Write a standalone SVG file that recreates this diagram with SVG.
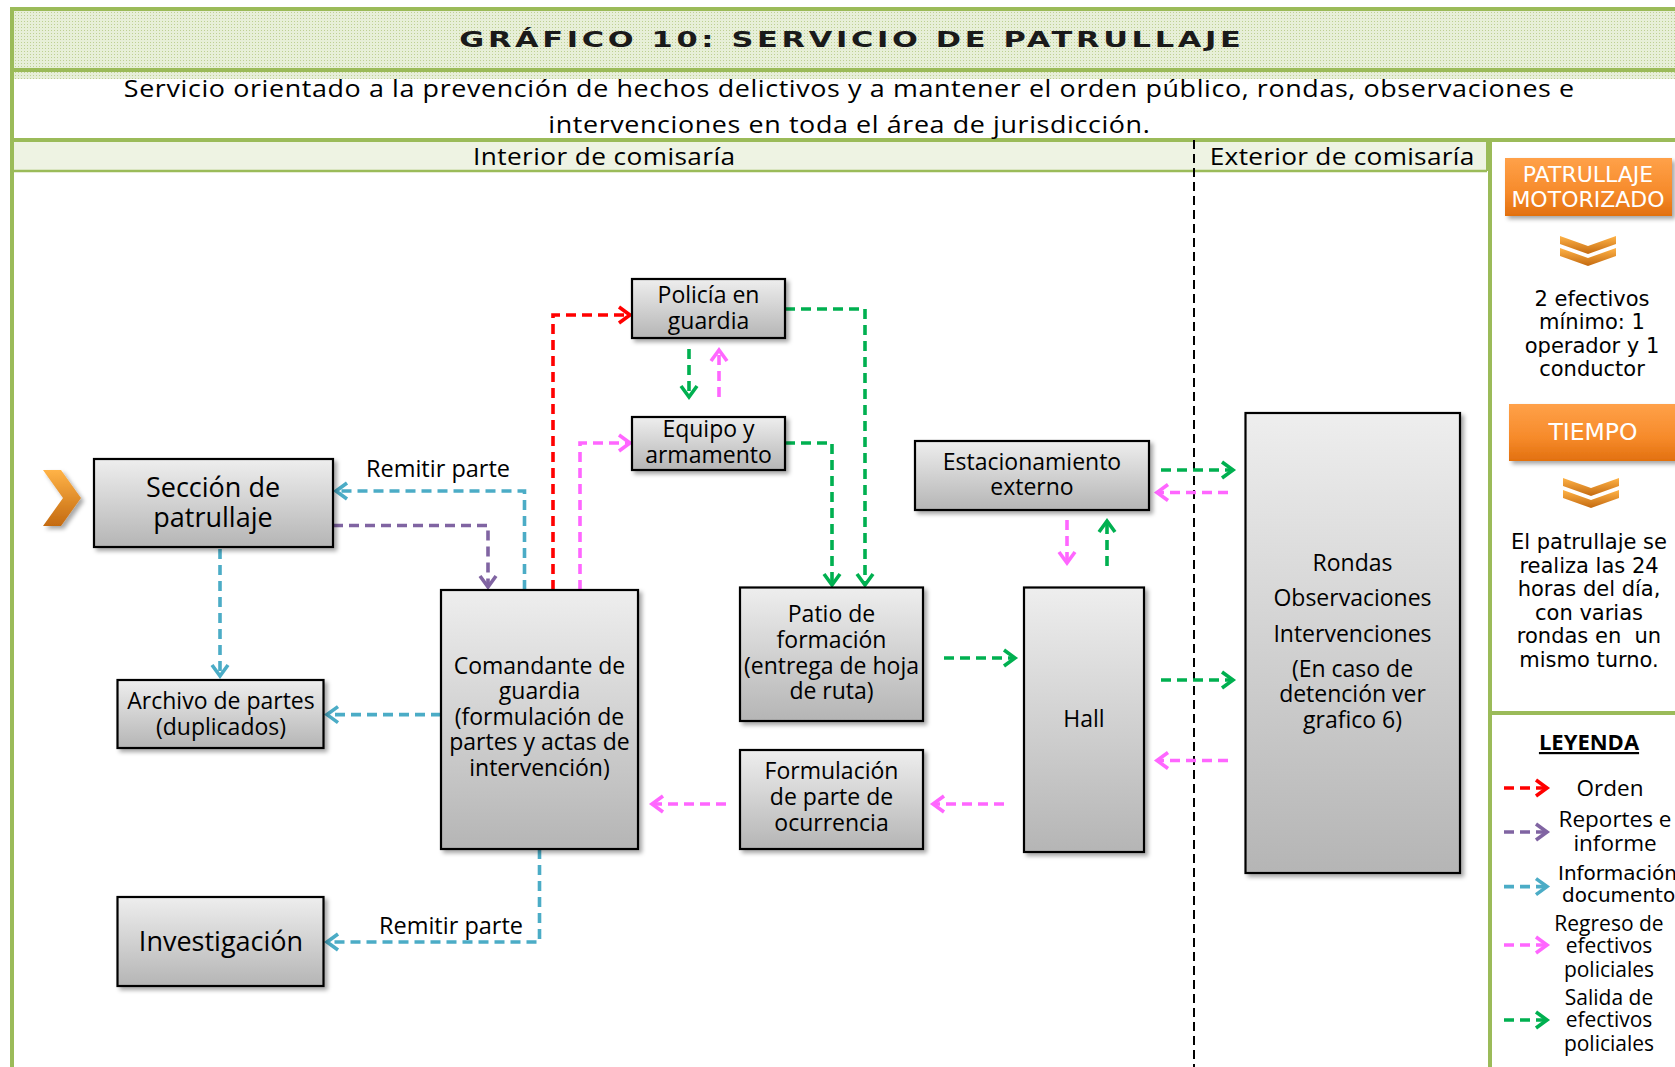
<svg xmlns="http://www.w3.org/2000/svg" width="1675" height="1067" viewBox="0 0 1675 1067">
<style>
.n{font-family:"Open Sans","Noto Sans",sans-serif;font-size:23px;fill:#000;text-anchor:middle}
.rc{font-family:"DejaVu Sans","Noto Sans",sans-serif;font-size:21px;fill:#000;text-anchor:middle}
.lg{font-family:"Open Sans","Noto Sans",sans-serif;font-size:21px;fill:#000;text-anchor:middle}
.big{font-size:27px}
.box{fill:url(#gg);stroke:#000;stroke-width:2.2;filter:url(#sh)}
.ob{fill:url(#og);filter:url(#sh)}
.w{fill:#fff}
.c{fill:none;stroke-width:3.6;stroke-dasharray:10 6}
.red{stroke:#ff0000;marker-end:url(#mr)}
.pur{stroke:#8064a2;marker-end:url(#mp)}
.blu{stroke:#4bacc6;marker-end:url(#mb)}
.pnk{stroke:#ff66ff;marker-end:url(#mk)}
.grn{stroke:#00b050;marker-end:url(#mg)}
.frame{fill:none;stroke:#9bbb59;stroke-width:4}
</style>
<defs>
<linearGradient id="gg" x1="0" y1="0" x2="0" y2="1"><stop offset="0" stop-color="#eeeeee"/><stop offset="1" stop-color="#b5b5b5"/></linearGradient>
<linearGradient id="og" x1="0" y1="0" x2="0" y2="1"><stop offset="0" stop-color="#ffa149"/><stop offset="0.6" stop-color="#f68a2a"/><stop offset="1" stop-color="#e2700f"/></linearGradient>
<linearGradient id="cg" x1="0" y1="0" x2="0" y2="1"><stop offset="0" stop-color="#ffb347"/><stop offset="1" stop-color="#c46a10"/></linearGradient>
<pattern id="dots" width="3" height="3" patternUnits="userSpaceOnUse"><rect width="3" height="3" fill="#e7efd8"/><rect width="1" height="1" fill="#bed093"/></pattern>
<filter id="sh" x="-10%" y="-10%" width="130%" height="130%"><feDropShadow dx="3" dy="3" stdDeviation="2" flood-color="#000" flood-opacity="0.35"/></filter>
<marker id="mr" markerUnits="userSpaceOnUse" markerWidth="22" markerHeight="22" viewBox="0 0 22 22" refX="17" refY="11" orient="auto"><path d="M6,3 L17,11 L6,19" fill="none" stroke="#ff0000" stroke-width="3.6"/></marker>
<marker id="mp" markerUnits="userSpaceOnUse" markerWidth="22" markerHeight="22" viewBox="0 0 22 22" refX="17" refY="11" orient="auto"><path d="M6,3 L17,11 L6,19" fill="none" stroke="#8064a2" stroke-width="3.6"/></marker>
<marker id="mb" markerUnits="userSpaceOnUse" markerWidth="22" markerHeight="22" viewBox="0 0 22 22" refX="17" refY="11" orient="auto"><path d="M6,3 L17,11 L6,19" fill="none" stroke="#4bacc6" stroke-width="3.6"/></marker>
<marker id="mk" markerUnits="userSpaceOnUse" markerWidth="22" markerHeight="22" viewBox="0 0 22 22" refX="17" refY="11" orient="auto"><path d="M6,3 L17,11 L6,19" fill="none" stroke="#ff66ff" stroke-width="3.6"/></marker>
<marker id="mg" markerUnits="userSpaceOnUse" markerWidth="22" markerHeight="22" viewBox="0 0 22 22" refX="17" refY="11" orient="auto"><path d="M6,3 L17,11 L6,19" fill="none" stroke="#00b050" stroke-width="3.6"/></marker>
<g id="chev"><polygon points="0,0 28,10 56,0 56,8 28,18 0,8" fill="url(#cg)"/><polygon points="0,12 28,22 56,12 56,20 28,30 0,20" fill="url(#cg)"/></g>
</defs>

<rect width="1675" height="1067" fill="#fff"/>

<g id="frame">
<rect x="12" y="9" width="1700" height="70" fill="url(#dots)"/>
<rect x="12" y="140" width="1182" height="31" fill="#eef3e3"/>
<rect x="1194" y="140" width="293" height="31" fill="#eef3e3"/>
<rect x="12" y="9" width="1700" height="1100" class="frame"/>
<line x1="12" y1="70" x2="1675" y2="70" stroke="#9bbb59" stroke-width="4"/>
<line x1="12" y1="140" x2="1675" y2="140" stroke="#9bbb59" stroke-width="4"/>
<line x1="12" y1="171" x2="1487" y2="171" stroke="#9bbb59" stroke-width="2.5"/>
<line x1="1487" y1="140" x2="1487" y2="171" stroke="#9bbb59" stroke-width="2"/>
<line x1="1490" y1="140" x2="1490" y2="1067" stroke="#9bbb59" stroke-width="4"/>
<line x1="1490" y1="713" x2="1675" y2="713" stroke="#9bbb59" stroke-width="4"/>
<line x1="1194" y1="140" x2="1194" y2="1067" stroke="#000" stroke-width="2" stroke-dasharray="9 5"/>
<text transform="translate(850,47) scale(1.45,1)" x="0" y="0" font-family="DejaVu Sans, sans-serif" font-weight="bold" font-size="21" text-anchor="middle" textLength="539" lengthAdjust="spacing" fill="#1a1a1a">GRÁFICO 10: SERVICIO DE PATRULLAJE</text>
<text transform="translate(849,97) scale(1.12,1)" x="0" y="0" class="n" style="font-size:24px" textLength="1295" lengthAdjust="spacing">Servicio orientado a la prevención de hechos delictivos y a mantener el orden público, rondas, observaciones e</text>
<text transform="translate(849,132.5) scale(1.12,1)" x="0" y="0" class="n" style="font-size:24px" textLength="537" lengthAdjust="spacing">intervenciones en toda el área de jurisdicción.</text>
<text transform="translate(604,165) scale(1.14,1)" x="0" y="0" class="n" textLength="230" lengthAdjust="spacing">Interior de comisaría</text>
<text transform="translate(1342,165) scale(1.14,1)" x="0" y="0" class="n" textLength="232" lengthAdjust="spacing">Exterior de comisaría</text>
</g>

<g id="connectors">
<path class="c blu" d="M524.5,590 V491 H336"/>
<path class="c pur" d="M333,525.5 H488 V587"/>
<path class="c blu" d="M220,549 V676"/>
<path class="c blu" d="M441,714.6 H327"/>
<path class="c blu" d="M539.5,849 V942 H327"/>
<path class="c red" d="M553,590 V315 H630"/>
<path class="c pnk" d="M580,590 V443 H630"/>
<path class="c grn" d="M785,309 H865 V585"/>
<path class="c grn" d="M785,443 H832 V585"/>
<path class="c grn" d="M689,349 V397"/>
<path class="c pnk" d="M719,397 V350"/>
<path class="c grn" d="M944,658 H1015"/>
<path class="c pnk" d="M1004,804 H933"/>
<path class="c pnk" d="M726,804 H652"/>
<path class="c pnk" d="M1067,520 V563"/>
<path class="c grn" d="M1107,566 V521"/>
<path class="c grn" d="M1161,470 H1233"/>
<path class="c pnk" d="M1228,492.5 H1157"/>
<path class="c grn" d="M1161,680 H1233"/>
<path class="c pnk" d="M1228,760.5 H1157"/>
<text x="438" y="477" class="n" style="font-size:23.5px">Remitir parte</text>
<text x="451" y="934" class="n" style="font-size:23.5px">Remitir parte</text>
</g>

<g id="start-chevron"><polygon points="43,470 61,470 81,498 61,526 43,526 63,498" fill="url(#cg)" filter="url(#sh)"/></g>

<g id="seccion"><rect class="box" x="94" y="459" width="239" height="88"/><text class="n big" x="213" y="496.5">Sección de</text><text class="n big" x="213" y="526.5">patrullaje</text></g>
<g id="archivo"><rect class="box" x="117.5" y="680" width="206" height="68"/><text class="n" x="221" y="709">Archivo de partes</text><text class="n" x="221" y="734.5">(duplicados)</text></g>
<g id="investigacion"><rect class="box" x="117.5" y="897" width="206" height="89"/><text class="n big" x="221" y="950.5">Investigación</text></g>
<g id="comandante"><rect class="box" x="441" y="590" width="197" height="259"/>
<text class="n" x="539.5" y="673.5">Comandante de</text><text class="n" x="539.5" y="699">guardia</text><text class="n" x="539.5" y="725">(formulación de</text><text class="n" x="539.5" y="750">partes y actas de</text><text class="n" x="539.5" y="776">intervención)</text></g>
<g id="policia"><rect class="box" x="632" y="279" width="153" height="59"/><text class="n" x="708.5" y="303">Policía en</text><text class="n" x="708.5" y="328.5">guardia</text></g>
<g id="equipo"><rect class="box" x="632" y="417" width="153" height="53"/><text class="n" x="708.5" y="437">Equipo y</text><text class="n" x="708.5" y="463">armamento</text></g>
<g id="patio"><rect class="box" x="740" y="587.5" width="183" height="133.5"/><text class="n" x="831.5" y="622">Patio de</text><text class="n" x="831.5" y="648">formación</text><text class="n" x="831.5" y="673.5">(entrega de hoja</text><text class="n" x="831.5" y="699">de ruta)</text></g>
<g id="formulacion"><rect class="box" x="740" y="750" width="183" height="99"/><text class="n" x="831.5" y="779">Formulación</text><text class="n" x="831.5" y="805">de parte de</text><text class="n" x="831.5" y="830.5">ocurrencia</text></g>
<g id="estacionamiento"><rect class="box" x="915" y="441" width="234" height="69"/><text class="n" x="1032" y="469.5">Estacionamiento</text><text class="n" x="1032" y="495">externo</text></g>
<g id="hall"><rect class="box" x="1024" y="587.5" width="120" height="264.5"/><text class="n" x="1084" y="727">Hall</text></g>
<g id="rondas"><rect class="box" x="1245.5" y="413" width="214.5" height="460"/>
<text class="n" x="1352.5" y="571">Rondas</text><text class="n" x="1352.5" y="606">Observaciones</text><text class="n" x="1352.5" y="641.5">Intervenciones</text><text class="n" x="1352.5" y="677">(En caso de</text><text class="n" x="1352.5" y="702">detención ver</text><text class="n" x="1352.5" y="728">grafico 6)</text></g>

<g id="motorizado"><rect class="ob" x="1505" y="158" width="167" height="58"/><text class="rc w" style="font-size:22px" x="1588" y="181.5">PATRULLAJE</text><text class="rc w" style="font-size:22px" x="1588" y="207">MOTORIZADO</text></g>
<use href="#chev" x="1560" y="236"/>
<g id="efectivos"><text class="rc" x="1592" y="305.5">2 efectivos</text><text class="rc" x="1592" y="329">mínimo: 1</text><text class="rc" x="1592" y="352.5">operador y 1</text><text class="rc" x="1592" y="376">conductor</text></g>
<g id="tiempo"><rect class="ob" x="1509" y="404" width="180" height="57"/><text class="rc w" style="font-size:23.5px" x="1593" y="439.5">TIEMPO</text></g>
<use href="#chev" x="1563" y="478"/>
<g id="patrullaje-texto"><text class="rc" x="1589" y="549">El patrullaje se</text><text class="rc" x="1589" y="572.5">realiza las 24</text><text class="rc" x="1589" y="596">horas del día,</text><text class="rc" x="1589" y="619.5">con varias</text><text class="rc" x="1589" y="643" xml:space="preserve">rondas en  un</text><text class="rc" x="1589" y="666.5">mismo turno.</text></g>

<g id="leyenda">
<text class="n" font-weight="bold" text-decoration="underline" style="font-size:22px" x="1589" y="750">LEYENDA</text>
<path class="c red" d="M1504,788 H1547"/>
<path class="c pur" d="M1504,832 H1547"/>
<path class="c blu" d="M1504,886.6 H1547"/>
<path class="c pnk" d="M1504,945 H1547"/>
<path class="c grn" d="M1504,1020 H1547"/>
<text class="n" style="font-size:22.5px" x="1610" y="795.5">Orden</text>
<text class="lg" style="font-size:22.5px" x="1615" y="826.5">Reportes e</text><text class="lg" style="font-size:22.5px" x="1615" y="851">informe</text>
<text class="rc" style="font-size:20px;text-anchor:start" x="1558" y="880">Información</text><text class="rc" style="font-size:20px;text-anchor:start" x="1562" y="901.5">documentos</text>
<text class="lg" x="1609" y="930.5">Regreso de</text><text class="lg" x="1609" y="953">efectivos</text><text class="lg" x="1609" y="976.5">policiales</text>
<text class="lg" x="1609" y="1004.5">Salida de</text><text class="lg" x="1609" y="1027">efectivos</text><text class="lg" x="1609" y="1051">policiales</text>
</g>
</svg>
